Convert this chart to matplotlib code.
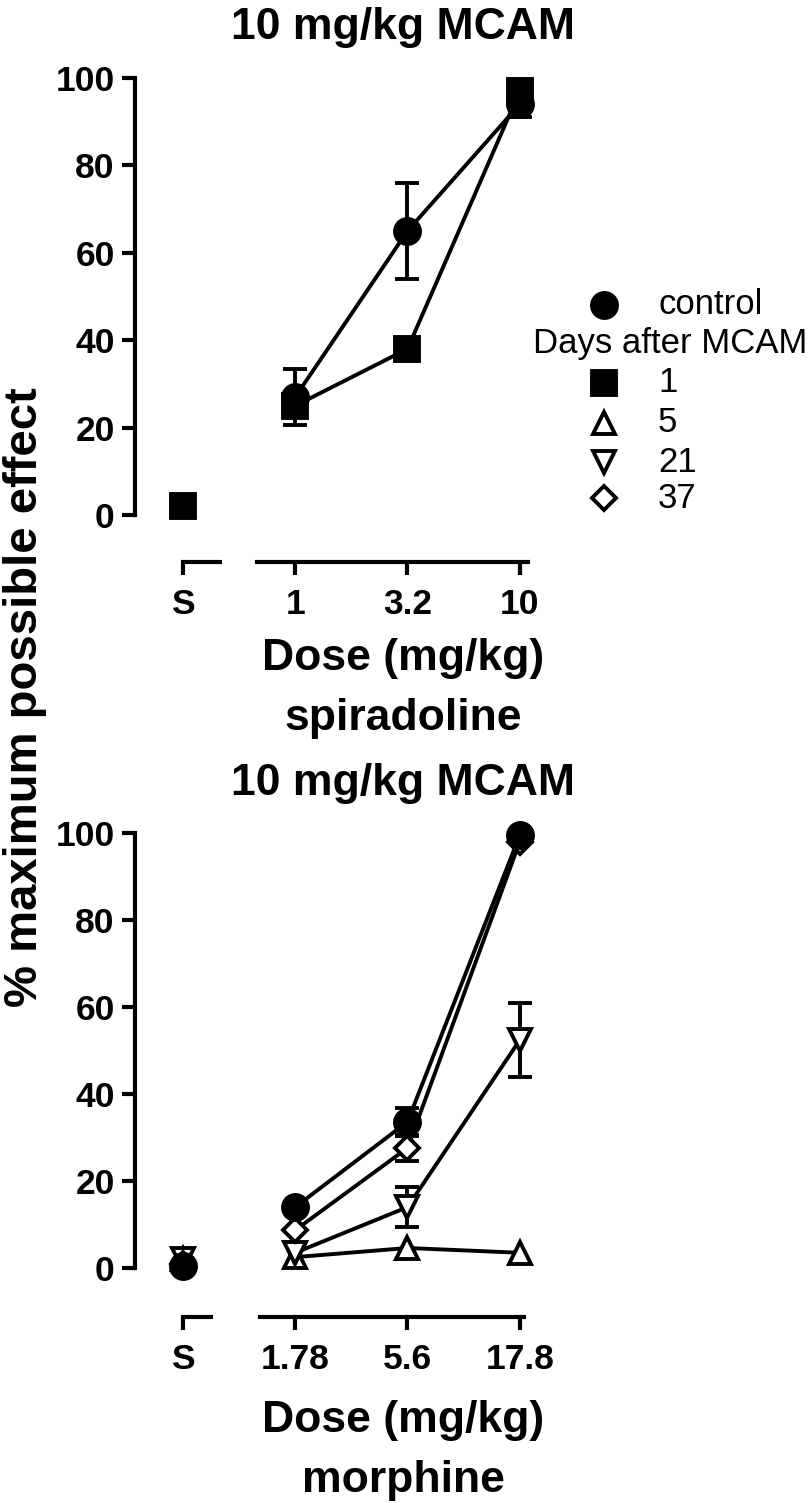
import matplotlib
matplotlib.use('Agg')
import matplotlib.pyplot as plt
import matplotlib.transforms as mtransforms
from matplotlib.lines import Line2D

plt.rcParams['font.family'] = ['Liberation Sans', 'DejaVu Sans']

# category positions: saline (S) then three doses
pos = [0, 1, 2, 3]
spir_labels = ['S', '1', '3.2', '10']
morph_labels = ['S', '1.78', '5.6', '17.8']

# spiradoline panel (values at S, dose1, dose2, dose3); None = not shown
spir_ctrl = [None, 27, 65, 94]
spir_ctrl_err = [0, 6.5, 11, 3]
spir_d1 = [2, 25, 38, 97]
spir_d1_err = [0, 0, 0, 0]

# morphine panel
morph_ctrl = [0.5, 14, 33.6, 99.5]
morph_ctrl_err = [0, 0, 3.2, 0]
morph_d5 = [2, 2.5, 4.6, 3.5]
morph_d5_err = [0, 0, 0, 0]
morph_d21 = [2, 3.5, 14, 52.4]
morph_d21_err = [0, 0, 4.6, 8.5]
morph_d37 = [1, 8.7, 27.6, 98]
morph_d37_err = [0, 0, 3, 0]

legend_labels = ['control', '1', '5', '21', '37']

# marker styles: (marker, size, facecolor)
styles = {
    'control': ('o', 18, 'black'),
    'd1': ('s', 17, 'black'),
    'd5': ('^', 16, 'white'),
    'd21': ('v', 16, 'white'),
    'd37': ('D', 12.5, 'white'),
}

W, H, DPI = 8.1, 15.03, 100
fig = plt.figure(figsize=(W, H), dpi=DPI)


def fx(px):
    return px / 810


def fy(py):
    return 1 - py / 1503


def draw_series(ax, y, err, key, z):
    m, ms, fc = styles[key]
    xs = [p for p, v in zip(pos, y) if v is not None]
    ys = [v for v in y if v is not None]
    es = [e for e, v in zip(err, y) if v is not None]
    # dose points connected, S point alone
    dx = [x for x in xs if x > 0]
    dy = [v for x, v in zip(xs, ys) if x > 0]
    ax.plot(dx, dy, color='black', lw=2.8, zorder=z, clip_on=False)
    for x, v, e in zip(xs, ys, es):
        if e > 0:
            ax.errorbar(x, v, yerr=e, fmt='none', ecolor='black', elinewidth=2.8,
                        capsize=8.5, capthick=2.8, zorder=z, clip_on=False)
    ax.plot(xs, ys, linestyle='none', marker=m, markersize=ms, markerfacecolor=fc,
            markeredgecolor='black', markeredgewidth=2.8, zorder=z + 0.5, clip_on=False)


def setup_axes(ax, labels, off_px, seg_left, seg_right):
    ax.set_xlim(-0.427, 3.1)
    ax.set_ylim(0, 100)
    ax.spines['top'].set_visible(False)
    ax.spines['right'].set_visible(False)
    ax.spines['left'].set_linewidth(3)
    ax.spines['bottom'].set_linewidth(3)
    ax.spines['bottom'].set_position(('outward', off_px * 72 / DPI))
    ax.spines['bottom'].set_bounds(seg_right[0], seg_right[1])
    ax.set_yticks([0, 20, 40, 60, 80, 100])
    ax.set_xticks(pos)
    ax.set_xticklabels(labels)
    ax.tick_params(axis='both', width=3, length=9.5, labelsize=25.5)
    ax.tick_params(axis='x', pad=9)
    ax.tick_params(axis='y', pad=5)
    for t in ax.get_xticklabels() + ax.get_yticklabels():
        t.set_fontweight('bold')
    # left piece of the broken x axis
    tr = mtransforms.offset_copy(ax.get_xaxis_transform(), fig=fig, y=-off_px, units='dots')
    ax.add_line(Line2D(seg_left, [0, 0], transform=tr, color='black', lw=3,
                       clip_on=False, solid_capstyle='butt'))


# top panel: spiradoline
ax1 = fig.add_axes([fx(135), fy(515), fx(531) - fx(135), fy(78) - fy(515)])
setup_axes(ax1, spir_labels, 47, [-0.015, 0.35], [0.66, 3.07])
draw_series(ax1, spir_ctrl, spir_ctrl_err, 'control', 3)
draw_series(ax1, spir_d1, spir_d1_err, 'd1', 4)

# bottom panel: morphine
ax2 = fig.add_axes([fx(135), fy(1268), fx(531) - fx(135), fy(833) - fy(1268)])
setup_axes(ax2, morph_labels, 49, [-0.015, 0.27], [0.69, 3.04])
draw_series(ax2, morph_d5, morph_d5_err, 'd5', 2)
draw_series(ax2, morph_d21, morph_d21_err, 'd21', 3)
draw_series(ax2, morph_d37, morph_d37_err, 'd37', 4)
draw_series(ax2, morph_ctrl, morph_ctrl_err, 'control', 5)

# titles and axis labels (baseline anchored)
big = dict(fontsize=32, fontweight='bold', ha='center', va='baseline')
fig.text(fx(403), fy(39), '10 mg/kg MCAM', **big)
fig.text(fx(403), fy(670), 'Dose (mg/kg)', **big)
fig.text(fx(403), fy(730), 'spiradoline', **big)
fig.text(fx(403), fy(795), '10 mg/kg MCAM', **big)
fig.text(fx(403), fy(1432), 'Dose (mg/kg)', **big)
fig.text(fx(403), fy(1492), 'morphine', **big)
fig.text(fx(25), fy(697), '% maximum possible effect', rotation=90, fontsize=34,
         fontweight='bold', ha='center', va='center')

# legend built by hand
leg_rows = [305, 383, 423, 462, 498]
leg_keys = ['control', 'd1', 'd5', 'd21', 'd37']
for key, lab, ry in zip(leg_keys, legend_labels, leg_rows):
    m, ms, fc = styles[key]
    fig.add_artist(Line2D([fx(604)], [fy(ry)], transform=fig.transFigure, marker=m,
                          markersize=ms, markerfacecolor=fc, markeredgecolor='black',
                          markeredgewidth=2.8, linestyle='none'))
    fig.text(fx(658), fy(ry), lab, fontsize=25, ha='left', va='center')
fig.text(fx(670), fy(343), 'Days after MCAM', fontsize=25, ha='center', va='center')

fig.savefig('out.png', dpi=DPI)
